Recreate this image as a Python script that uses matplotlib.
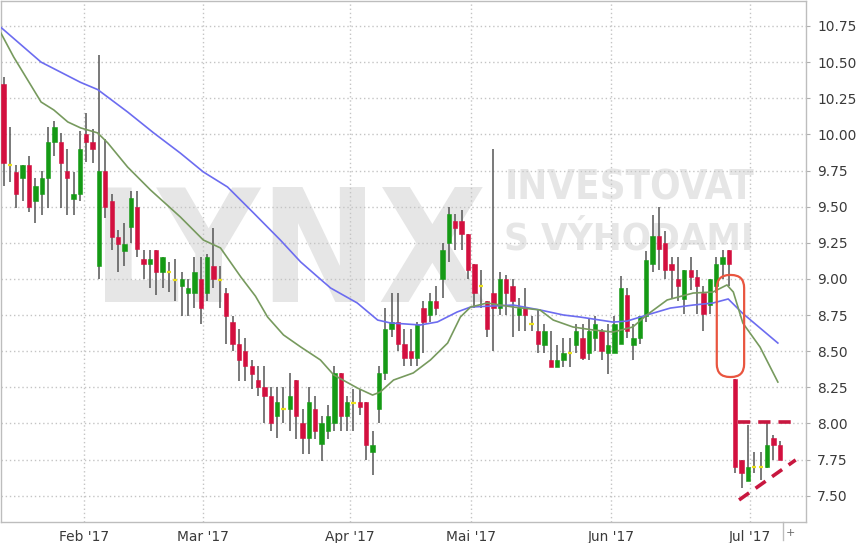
import numpy as np
import matplotlib
matplotlib.use("Agg")
import matplotlib.pyplot as plt
from matplotlib.patches import FancyBboxPatch, Rectangle
from matplotlib.lines import Line2D

# candle data (one entry per trading day)
opens = [10.35, 9.79, 9.74, 9.70, 9.79, 9.54, 9.59, 9.70, 9.95, 9.95,
         9.75, 9.55, 9.59, 10.00, 9.95, 9.09, 9.75, 9.54, 9.29, 9.19,
         9.36, 9.50, 9.14, 9.10, 9.20, 9.05, 9.05, 8.99, 8.95, 8.90,
         8.90, 9.00, 8.90, 9.09, 8.99, 8.90, 8.70, 8.55, 8.50, 8.40,
         8.30, 8.25, 8.19, 8.05, 8.10, 8.10, 8.30, 8.00, 7.90, 8.10,
         7.86, 7.95, 8.00, 8.35, 8.05, 8.14, 8.15, 8.15, 7.80, 8.10,
         8.35, 8.65, 8.70, 8.55, 8.50, 8.45, 8.80, 8.75, 8.85, 9.00,
         9.25, 9.40, 9.40, 9.31, 9.10, 8.95, 8.85, 8.90, 8.80, 9.00,
         8.95, 8.75, 8.80, 8.69, 8.64, 8.54, 8.44, 8.39, 8.44, 8.49,
         8.54, 8.59, 8.49, 8.59, 8.64, 8.49, 8.49, 8.55, 8.89, 8.54,
         8.59, 8.74, 9.10, 9.30, 9.25, 9.10, 9.00, 8.86, 9.06, 9.01,
         8.90, 8.82, 8.95, 9.10, 9.20, 8.31, 7.75, 7.60, 7.70, 7.70,
         7.70, 7.90, 7.85]
highs = [10.40, 10.05, 9.79, 9.79, 9.85, 9.70, 9.75, 10.05, 10.09, 10.01,
         9.90, 9.74, 10.02, 10.15, 10.04, 10.55, 9.97, 9.59, 9.34, 9.39,
         9.61, 9.61, 9.20, 9.20, 9.20, 9.15, 9.12, 9.14, 9.05, 9.00,
         9.15, 9.15, 9.17, 9.35, 9.09, 8.94, 8.74, 8.65, 8.59, 8.44,
         8.40, 8.40, 8.25, 8.25, 8.25, 8.35, 8.30, 8.10, 8.25, 8.19,
         8.05, 8.13, 8.40, 8.35, 8.19, 8.24, 8.24, 8.15, 7.95, 8.40,
         8.80, 8.90, 8.90, 8.65, 8.65, 8.70, 8.85, 8.90, 8.95, 9.25,
         9.50, 9.45, 9.48, 9.31, 9.10, 9.06, 8.85, 9.90, 9.05, 9.03,
         9.00, 8.87, 8.94, 8.74, 8.79, 8.69, 8.64, 8.54, 8.59, 8.59,
         8.69, 8.69, 8.73, 8.74, 8.65, 8.69, 8.74, 9.02, 8.94, 8.69,
         8.74, 9.19, 9.44, 9.50, 9.33, 9.15, 9.15, 9.06, 9.15, 9.06,
         8.95, 9.00, 9.15, 9.20, 9.20, 8.31, 7.75, 7.99, 7.80, 7.80,
         8.00, 7.92, 7.88]
lows = [9.64, 9.67, 9.49, 9.54, 9.46, 9.39, 9.44, 9.49, 9.85, 9.49,
        9.44, 9.44, 9.54, 9.81, 9.80, 9.00, 9.42, 9.20, 9.05, 9.09,
        9.25, 9.15, 9.00, 8.94, 8.89, 8.94, 8.91, 8.85, 8.74, 8.74,
        8.80, 8.69, 8.85, 8.94, 8.80, 8.55, 8.50, 8.29, 8.29, 8.24,
        8.19, 8.00, 7.95, 7.90, 8.00, 7.95, 7.89, 7.79, 7.79, 7.89,
        7.74, 7.89, 7.95, 7.95, 7.95, 7.95, 8.06, 7.75, 7.64, 8.00,
        8.30, 8.60, 8.50, 8.40, 8.40, 8.40, 8.49, 8.70, 8.75, 8.87,
        9.12, 9.20, 9.20, 9.00, 8.80, 8.80, 8.60, 8.50, 8.75, 8.75,
        8.60, 8.64, 8.64, 8.64, 8.49, 8.49, 8.39, 8.39, 8.39, 8.39,
        8.49, 8.44, 8.44, 8.50, 8.44, 8.34, 8.49, 8.55, 8.59, 8.44,
        8.55, 8.70, 9.05, 9.06, 9.00, 8.86, 8.85, 8.76, 8.92, 8.76,
        8.64, 8.76, 8.90, 9.00, 8.95, 7.66, 7.55, 7.60, 7.66, 7.61,
        7.69, 7.75, 7.75]
closes = [9.80, 9.79, 9.59, 9.79, 9.50, 9.64, 9.70, 9.95, 10.05, 9.80,
          9.70, 9.59, 9.90, 9.95, 9.90, 9.75, 9.50, 9.29, 9.24, 9.24,
          9.56, 9.21, 9.10, 9.14, 9.05, 9.15, 9.05, 8.99, 9.00, 8.94,
          9.05, 8.80, 9.15, 9.00, 8.99, 8.74, 8.55, 8.44, 8.40, 8.34,
          8.25, 8.19, 8.00, 8.15, 8.10, 8.19, 8.05, 7.90, 8.15, 7.95,
          8.00, 8.05, 8.35, 8.05, 8.15, 8.14, 8.11, 7.85, 7.85, 8.35,
          8.65, 8.70, 8.55, 8.45, 8.45, 8.69, 8.70, 8.85, 8.80, 9.20,
          9.45, 9.35, 9.31, 9.06, 8.90, 8.95, 8.65, 8.80, 9.00, 8.90,
          8.85, 8.80, 8.75, 8.69, 8.55, 8.64, 8.39, 8.44, 8.49, 8.49,
          8.64, 8.45, 8.64, 8.69, 8.50, 8.54, 8.69, 8.94, 8.64, 8.59,
          8.74, 9.13, 9.30, 9.21, 9.06, 9.06, 8.95, 9.06, 9.01, 8.95,
          8.76, 9.00, 9.10, 9.15, 9.10, 7.70, 7.66, 7.70, 7.70, 7.70,
          7.85, 7.85, 7.75]

# moving averages, sampled along the drawn curves (trading-day index, price)
ma_long_x = [-0.4, 5.9, 9.0, 12.1, 14.8, 19.5, 23.6, 27.8, 31.4, 35.2, 39.3,
             43.5, 46.7, 49.4, 51.4, 55.6, 58.8, 60.8, 65.5, 68.2, 71.3, 73.4,
             80.1, 84.3, 88.0, 90.6, 92.7, 95.8, 98.0, 101.1, 104.8, 108.4,
             111.5, 113.9, 116.1, 118.9, 121.7]
ma_long_y = [10.74, 10.50, 10.43, 10.36, 10.31, 10.155, 10.01, 9.87, 9.74,
             9.636, 9.456, 9.269, 9.117, 9.013, 8.937, 8.833, 8.715, 8.695,
             8.681, 8.702, 8.771, 8.805, 8.819, 8.785, 8.75, 8.736, 8.722,
             8.701, 8.708, 8.75, 8.798, 8.819, 8.833, 8.861, 8.764, 8.66,
             8.556]
ma_short_x = [-0.4, 1.6, 3.8, 5.9, 7.9, 10.1, 12.1, 14.8, 16.4, 19.5, 23.1,
              27.8, 31.4, 34.1, 37.3, 39.6, 41.5, 44.0, 46.7, 49.8, 51.9,
              55.6, 58.0, 59.2, 61.3, 64.4, 67.1, 69.8, 71.8, 73.4, 76.0,
              80.1, 84.3, 86.4, 89.5, 92.7, 95.8, 98.9, 101.1, 104.3, 108.4,
              111.5, 113.7, 114.7, 116.2, 118.9, 121.7]
ma_short_y = [10.70, 10.535, 10.376, 10.224, 10.169, 10.086, 10.045, 10.01,
              9.94, 9.774, 9.615, 9.428, 9.269, 9.214, 9.013, 8.88, 8.736,
              8.612, 8.529, 8.439, 8.335, 8.245, 8.196, 8.217, 8.30, 8.349,
              8.439, 8.556, 8.736, 8.805, 8.833, 8.805, 8.785, 8.715, 8.667,
              8.646, 8.632, 8.667, 8.75, 8.854, 8.902, 8.909, 8.958, 8.909,
              8.694, 8.528, 8.286]

month_labels = ["Feb '17", "Mar '17", "Apr '17", "Mai '17", "Jun '17", "Jul '17"]
month_pos = [12.6, 31.4, 54.5, 73.5, 95.5, 117.3]
y_ticks = [7.50, 7.75, 8.00, 8.25, 8.50, 8.75, 9.00, 9.25, 9.50, 9.75,
           10.00, 10.25, 10.50, 10.75]

RED = "#d3103f"
GREEN = "#159a15"
DOJI = "#ece21a"
WICK = "#555555"
WM = "#e6e6e6"

plt.rcParams["font.family"] = "DejaVu Sans"

fig = plt.figure(figsize=(8.58, 5.43), dpi=100)
ax = fig.add_axes([0.001, 21 / 543, 805 / 858, 521 / 543])

ax.set_xlim(-0.42, 126.1)
ax.set_ylim(7.3175, 10.923)

# watermark, sized so each word spans roughly its width in the reference (pixels)
renderer = fig.canvas.get_renderer()


def watermark(xd, yd, s, width_px):
    t = ax.text(xd, yd, s, fontsize=40, fontweight="bold", fontstretch="condensed",
                color=WM, ha="left", va="baseline", zorder=0.1)
    w = t.get_window_extent(renderer).width
    t.set_fontsize(40 * width_px / w)
    return t


watermark(13.9, 8.84, "LYNX", 395)
watermark(78.7, 9.546, "INVESTOVAT", 250)
watermark(78.7, 9.20, "S VÝHODAMI", 250)

# candles
n = len(opens)
x = np.arange(n)
bw = 0.68
for i in range(n):
    o, h, l, c = opens[i], highs[i], lows[i], closes[i]
    ax.vlines(x[i], l, h, color=WICK, linewidth=1.1, zorder=2)
    if c > o:
        ax.add_patch(Rectangle((x[i] - bw / 2, o), bw, c - o, facecolor=GREEN,
                               edgecolor=GREEN, linewidth=0.4, zorder=3))
    elif c < o:
        ax.add_patch(Rectangle((x[i] - bw / 2, c), bw, o - c, facecolor=RED,
                               edgecolor=RED, linewidth=0.4, zorder=3))
    else:
        ax.hlines(o, x[i] - bw / 2, x[i] + bw / 2, color=DOJI, linewidth=1.6, zorder=3)

# moving averages
ax.plot(ma_long_x, ma_long_y, color="#6c6cf0", linewidth=1.2, zorder=4)
ax.plot(ma_short_x, ma_short_y, color="#779a5e", linewidth=1.2, zorder=4)

# annotations
asp = (1 / 144.5) / (1 / 6.37)
box = FancyBboxPatch((112.1, 8.321), 4.3, 0.706,
                     boxstyle="round,pad=0,rounding_size=2.05",
                     mutation_aspect=asp, fill=False, edgecolor="#e9553f",
                     linewidth=1.6, zorder=6)
ax.add_patch(box)
ax.plot([115.4, 124.1], [8.01, 8.01], color="#c8173f", linewidth=2.6,
        linestyle=(0, (3.4, 2.2)), zorder=6)
ax.plot([115.6, 124.5], [7.47, 7.747], color="#c8173f", linewidth=2.6,
        linestyle=(0, (3.4, 2.2)), zorder=6)

# axes styling
ax.set_xticks(month_pos)
ax.set_xticklabels(month_labels)
ax.set_yticks(y_ticks)
ax.set_yticklabels([f"{v:.2f}" for v in y_ticks])
ax.yaxis.tick_right()
ax.tick_params(axis="y", length=3, color="#b0b0b0", pad=5, labelsize=9.9,
               labelcolor="#3a3a3a")
ax.tick_params(axis="x", length=0, pad=6, labelsize=9.9, labelcolor="#3a3a3a")
ax.grid(True, color="#c4c4c4", linewidth=1.0, linestyle=(0, (1, 2)))
ax.set_axisbelow(True)
for s in ax.spines.values():
    s.set_color("#bdbdbd")
    s.set_linewidth(1.0)

# small separator and "+" at the bottom right
fig.add_artist(Line2D([783 / 858, 783 / 858], [3 / 543, 21 / 543],
                      color="#bdbdbd", linewidth=1.0, transform=fig.transFigure))
fig.text(790 / 858, 10 / 543, "+", fontsize=8, color="#666666",
         ha="center", va="center")

fig.savefig("out.png", dpi=100)
